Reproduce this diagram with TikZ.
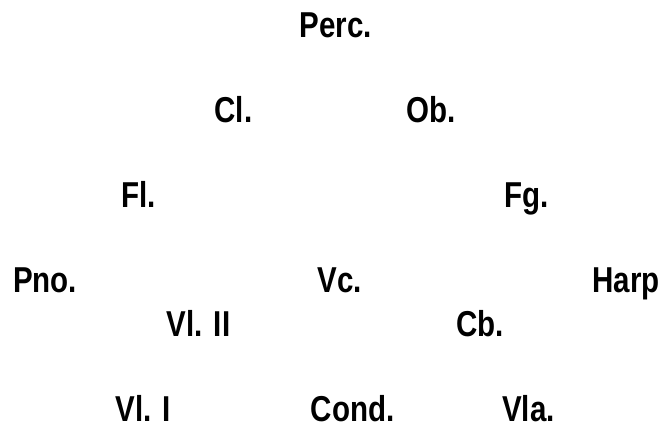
\documentclass[tikz,border=0pt]{standalone}
\usepackage{fontspec}
% condensed bold sans for the seating labels
\setmainfont[FakeStretch=0.82]{Liberation Sans}
\begin{document}
\begin{tikzpicture}[x=1pt,y=-1pt,
  lbl/.style={anchor=base,inner sep=0pt,font=\fontsize{36}{40}\selectfont\bfseries}]
\useasboundingbox (0,0) rectangle (664,426);
\node[lbl] (perc) at (336,37)    {Perc.};
\node[lbl] (cl)   at (233.5,122) {Cl.};
\node[lbl] (ob)   at (431.5,122) {Ob.};
\node[lbl] (fl)   at (138.5,207) {Fl.};
\node[lbl] (fg)   at (527,207)   {Fg.};
\node[lbl] (pno)  at (45,292)    {Pno.};
\node[lbl] (vc)   at (340,292)   {Vc.};
\node[lbl] (harp) at (626,292)   {Harp};
\node[lbl] (vlii) at (198.5,336) {Vl. II};
\node[lbl] (cb)   at (480,336)   {Cb.};
\node[lbl] (vli)  at (143.5,421) {Vl. I};
\node[lbl] (cond) at (352.5,421) {Cond.};
\node[lbl] (vla)  at (528.5,421) {Vla.};
\end{tikzpicture}
\end{document}
